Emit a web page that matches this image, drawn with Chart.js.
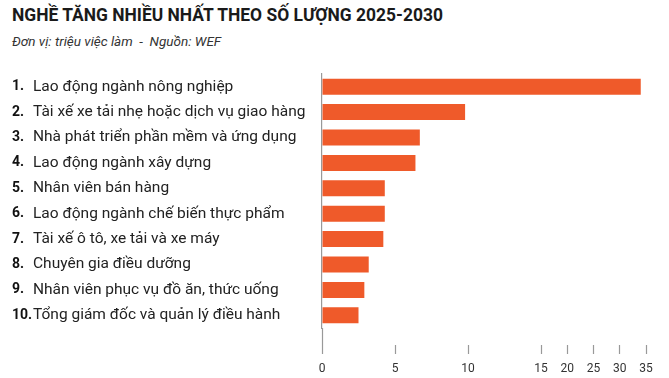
<!DOCTYPE html>
<html>
<head>
<meta charset="utf-8">
<script src="https://cdn.jsdelivr.net/npm/chart.js@4.4.1/dist/chart.umd.min.js"></script>
<style>
  html, body { margin: 0; padding: 0; background: #fff; }
  #wrap { position: relative; width: 669px; height: 378px; overflow: hidden; }
  #title { position: absolute; left: 12px; top: 3px; font-family: Roboto; font-weight: 700; font-size: 19px; color: #1a1a1a; white-space: nowrap; transform-origin: 0 0; }
  #sub { position: absolute; left: 12px; top: 33px; font-family: Roboto; font-style: italic; font-size: 13.5px; color: #333; white-space: pre; }
  canvas { position: absolute; left: 0; top: 0; }
</style>
</head>
<body>
<div id="wrap">
  <div id="title">NGHỀ TĂNG NHIỀU NHẤT THEO SỐ LƯỢNG 2025-2030</div>
  <div id="sub">Đơn vị: triệu việc làm  -  Nguồn: WEF</div>
  <canvas id="chart" width="669" height="378"></canvas>
</div>
<script>
const ranks = ['1.', '2.', '3.', '4.', '5.', '6.', '7.', '8.', '9.', '10.'];
const jobs = [
  'Lao động ngành nông nghiệp',
  'Tài xế xe tải nhẹ hoặc dịch vụ giao hàng',
  'Nhà phát triển phần mềm và ứng dụng',
  'Lao động ngành xây dựng',
  'Nhân viên bán hàng',
  'Lao động ngành chế biến thực phẩm',
  'Tài xế ô tô, xe tải và xe máy',
  'Chuyên gia điều dưỡng',
  'Nhân viên phục vụ đồ ăn, thức uống',
  'Tổng giám đốc và quản lý điều hành'
];
const jobsAdded = [34, 9.8, 6.7, 6.4, 4.3, 4.3, 4.2, 3.2, 2.9, 2.5];

// the x axis is squeezed after 15 (15..35 takes only about a third of the width)
const breakAt = 15;
const breakShare = 0.676;

class BrokenLinearScale extends Chart.LinearScale {
  getPixelForValue(value) {
    if (value === null || isNaN(value)) return NaN;
    let d;
    if (value <= breakAt) {
      d = (value - this.min) / (breakAt - this.min) * breakShare;
    } else {
      d = breakShare + (value - breakAt) / (this.max - breakAt) * (1 - breakShare);
    }
    return this.getPixelForDecimal(d);
  }
  getValueForPixel(pixel) {
    const d = this.getDecimalForPixel(pixel);
    if (d <= breakShare) return this.min + d / breakShare * (breakAt - this.min);
    return breakAt + (d - breakShare) / (1 - breakShare) * (this.max - breakAt);
  }
}
BrokenLinearScale.id = 'brokenLinear';
BrokenLinearScale.defaults = {};
Chart.register(BrokenLinearScale);

// squeeze the title like the condensed font in the original
const title = document.getElementById('title');
title.style.transform = 'scaleX(' + (431 / title.offsetWidth) + ')';

const ctx = document.getElementById('chart').getContext('2d');
new Chart(ctx, {
  type: 'bar',
  data: {
    labels: jobs,
    datasets: [{
      data: jobsAdded,
      backgroundColor: '#EF5A2A',
      barPercentage: 0.63,
      categoryPercentage: 1
    }]
  },
  options: {
    indexAxis: 'y',
    responsive: false,
    animation: false,
    layout: { padding: { left: 12, right: 23, top: 74, bottom: 3 } },
    plugins: { legend: { display: false }, tooltip: { enabled: false } },
    scales: {
      x: {
        type: 'brokenLinear',
        min: 0,
        max: 35,
        position: 'bottom',
        ticks: {
          stepSize: 5,
          callback: (v) => v,
          color: '#333',
          font: { family: 'Roboto', size: 12 },
          padding: 8,
          maxRotation: 0,
          autoSkip: false
        },
        grid: {
          drawOnChartArea: false,
          tickLength: 26,
          tickColor: '#999',
          tickWidth: 1.2,
          tickBorderDash: (c) => c.index === 0 ? [] : [0, 17, 9, 40]
        },
        border: { display: false },
        afterFit: (s) => { s.height = 47; }
      },
      y: {
        type: 'category',
        position: 'left',
        weight: 0,
        grid: { drawOnChartArea: false, drawTicks: false },
        border: { display: true, color: '#999', width: 1.2 },
        ticks: {
          crossAlign: 'far',
          color: '#222',
          font: { family: 'Roboto', size: 15.5 },
          padding: 0,
          autoSkip: false
        },
        afterFit: (s) => { s.width = 289; }
      },
      yNum: {
        type: 'category',
        labels: ranks,
        position: 'left',
        weight: 1,
        offset: true,
        grid: { display: false },
        border: { display: false },
        ticks: {
          crossAlign: 'far',
          color: '#111',
          font: { family: 'Roboto', size: 14, weight: 'bold' },
          padding: 0,
          autoSkip: false
        },
        afterFit: (s) => { s.width = 21; }
      }
    }
  }
});
</script>
</body>
</html>
